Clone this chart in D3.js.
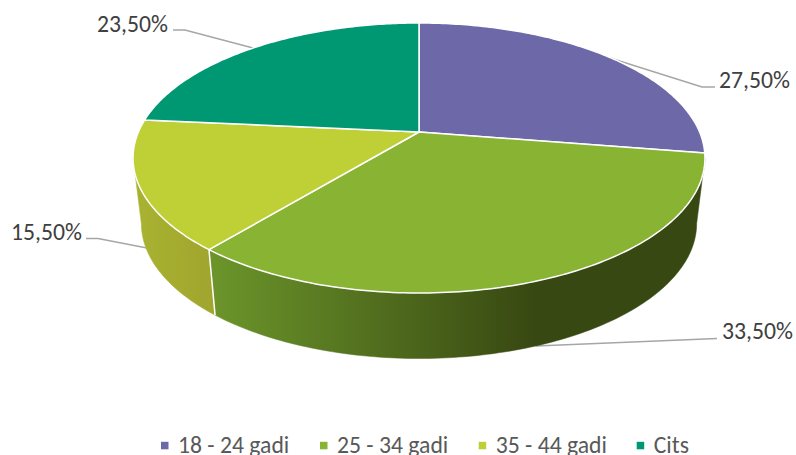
<!DOCTYPE html>
<html><head><meta charset="utf-8">
<script src="https://cdnjs.cloudflare.com/ajax/libs/d3/7.8.5/d3.min.js"></script>
<style>html,body{margin:0;padding:0;background:#fff}svg{display:block}</style>
</head><body><svg id="c" width="796" height="455"></svg>
<script>
const categories = ["18 - 24 gadi", "25 - 34 gadi", "35 - 44 gadi", "Cits"];
const values = [27.5, 33.5, 15.5, 23.5];
const valueLabels = ["27,50%", "33,50%", "15,50%", "23,50%"];

const topColors = ["#6d68a8", "#88b333", "#bfcf36", "#009873"];
const sideStops = [
  [[0, "#5a5690"], [1, "#3c3a66"]],
  [[0, "#6b942a"], [0.653, "#384812"], [1, "#384812"]],
  [[0, "#a9b330"], [1, "#a0a52e"]],
  [[0, "#007a5c"], [1, "#007a5c"]]
];
const gradExtent = [[300, 700], [215, 705], [133, 215], [133, 420]];
const labelAt = [[719, 88], [722, 339], [11, 240], [97, 32]];
const leaders = [
  [[610, 58], [702, 87], [715, 87]],
  [[536, 346], [717, 338.5]],
  [[147, 248], [98, 238.5], [86, 238.5]],
  [[253, 48], [185, 30], [173, 30]]
];
const legendX = [161, 320, 478.7, 636.7];

const svg = d3.select("#c");
const defs = svg.append("defs");

const cx = 419, cy = 132, k = 0.1926, A = 280.6, B = 130;
const depth = 65.5, sx = 0.971;
const tangentRight = Math.PI - Math.asin(Math.sqrt(1 - k * k)), tangentLeft = 2 * Math.PI - tangentRight;
function projTop(t) {
  const u = Math.sin(t), v = -Math.cos(t), d = 1 - k * v;
  return [cx + A * u / d, cy + B * v / d];
}
function projBottom(t) {
  const p = projTop(t);
  return [cx + (p[0] - cx) * sx, p[1] + depth];
}
const line = d3.line();
const arcs = d3.pie().sort(null).startAngle(0).endAngle(2 * Math.PI)(values);
const sweep = (a0, a1) => d3.range(0, 121).map(i => a0 + (a1 - a0) * i / 120);

const gL = svg.append("g");
leaders.forEach(l => gL.append("path").attr("d", line(l)).attr("fill", "none")
  .attr("stroke", "#a6a6a6").attr("stroke-width", 1.5));

arcs.forEach((a, i) => {
  const g = defs.append("linearGradient").attr("id", "s" + i).attr("gradientUnits", "userSpaceOnUse")
    .attr("x1", gradExtent[i][0]).attr("x2", gradExtent[i][1]).attr("y1", 0).attr("y2", 0);
  sideStops[i].forEach(s => g.append("stop").attr("offset", s[0]).attr("stop-color", s[1]));
});

// side walls, limited to the visible front between the silhouette tangents
svg.append("g").selectAll("path").data(arcs.filter(a => a.startAngle < tangentLeft && a.endAngle > tangentRight)).join("path")
  .attr("d", a => {
    const ts = sweep(Math.max(a.startAngle, Math.min(tangentRight, a.startAngle + 9)), Math.min(a.endAngle, tangentLeft));
    return line(ts.map(projTop).concat(ts.slice().reverse().map(projBottom))) + "Z";
  })
  .attr("fill", a => `url(#s${a.index})`)
  .attr("stroke", a => `url(#s${a.index})`).attr("stroke-width", 0.5);

// seam between the two walls
const seam = arcs[1].endAngle;
svg.append("path").attr("d", line([projTop(seam), projBottom(seam)]))
  .attr("stroke", "#fff").attr("stroke-width", 1.5).attr("fill", "none");

svg.append("g").selectAll("path").data(arcs).join("path")
  .attr("d", a => line([[cx, cy]].concat(sweep(a.startAngle, a.endAngle).map(projTop))) + "Z")
  .attr("fill", a => topColors[a.index])
  .attr("stroke", "#fff").attr("stroke-width", 1.5).attr("stroke-linejoin", "round");

svg.append("g").selectAll("text").data(valueLabels).join("text")
  .attr("x", (d, i) => labelAt[i][0]).attr("y", (d, i) => labelAt[i][1])
  .attr("font-family", "Carlito,Lato,sans-serif")
  .attr("font-size", 23.7).attr("fill", "#404040").text(d => d);

const lg = svg.append("g").selectAll("g").data(categories).join("g")
  .attr("transform", (d, i) => `translate(${legendX[i]},0)`);
lg.append("rect").attr("x", 0).attr("y", 441.8).attr("width", 7.5).attr("height", 7.5)
  .attr("fill", (d, i) => topColors[i]);
lg.append("text").attr("x", 17).attr("y", 452.5).attr("font-family", "Carlito,Lato,sans-serif")
  .attr("font-size", 23.7).attr("fill", "#595959").text(d => d);
</script></body></html>
